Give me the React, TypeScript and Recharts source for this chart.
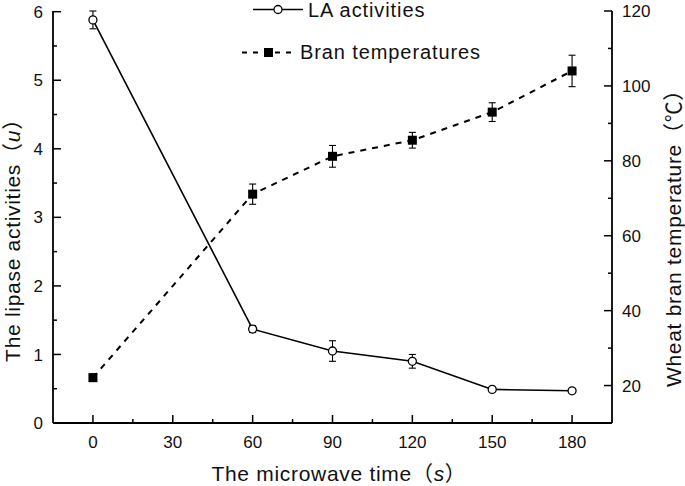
import { ReactElement } from 'react'
import { ComposedChart, Line, XAxis, YAxis, ErrorBar } from 'recharts'

// microwave time (s)
const times = [0, 60, 90, 120, 150, 180]
// lipase activities (u), left axis
const laActivities = [5.88, 1.37, 1.05, 0.9, 0.49, 0.47]
const laErrors = [0.13, 0.05, 0.15, 0.1, 0.03, 0.03]
// bran temperature (°C), right axis
const branTemps = [22.1, 71.1, 81.2, 85.5, 93, 104]
const branErrors = [1, 2.7, 2.9, 2.1, 2.5, 4.2]

const xTicks = [0, 15, 30, 45, 60, 75, 90, 105, 120, 135, 150, 165, 180]
const leftTicks = [0, 0.5, 1, 1.5, 2, 2.5, 3, 3.5, 4, 4.5, 5, 5.5, 6]
const rightTicks = [20, 30, 40, 50, 60, 70, 80, 90, 100, 110, 120]

const data = times.map((t, i) => ({
   time: t,
   la: laActivities[i],
   laErr: laErrors[i],
   temp: branTemps[i],
   tempErr: branErrors[i]
}))

const font = 'Arial, "Liberation Sans", "Noto Sans CJK SC", sans-serif'
const tickFont = 17
const titleFont = 21
const ink = '#000'

const AxisTick = (side: 'left' | 'right' | 'bottom', isMajor: (v: number) => boolean) =>
   (props: any): ReactElement => {
      const { x, y, payload } = props
      const v = payload.value as number
      const major = isMajor(v)
      const len = major ? 8 : 4
      if (side === 'bottom') {
         return (
            <g>
               <line x1={ x } y1={ y } x2={ x } y2={ y - len } stroke={ ink } strokeWidth={ 1.5 } />
               { major && <text x={ x } y={ y + 25 } textAnchor='middle' fontSize={ tickFont } fontFamily={ font } fill='#111'>{ v }</text> }
            </g>
         )
      }
      const dir = side === 'left' ? 1 : -1
      return (
         <g>
            <line x1={ x } y1={ y } x2={ x + dir * len } y2={ y } stroke={ ink } strokeWidth={ 1.5 } />
            { major && (
               <text
                  x={ x - dir * 10 }
                  y={ y }
                  dy='0.36em'
                  textAnchor={ side === 'left' ? 'end' : 'start' }
                  fontSize={ tickFont }
                  fontFamily={ font }
                  fill='#111'
               >{ v }</text>
            ) }
         </g>
      )
   }

const CircleDot = (props: any) => (
   <circle key={ 'c' + props.index } cx={ props.cx } cy={ props.cy } r={ 4 } fill='#fff' stroke={ ink } strokeWidth={ 1.3 } />
)

const SquareDot = (props: any) => (
   <rect key={ 's' + props.index } x={ props.cx - 4.5 } y={ props.cy - 4.5 } width={ 9 } height={ 9 } fill={ ink } />
)

export default function App(): ReactElement {
   return (
      <div style={{ position: 'absolute', left: 0, top: 0, width: 685, height: 486, background: '#fff' }}>
         <ComposedChart
            width={ 685 }
            height={ 486 }
            data={ data }
            margin={{ top: 11, right: 0, bottom: 0, left: 0 }}
         >
            <XAxis
               dataKey='time'
               type='number'
               domain={ [-15, 195] }
               ticks={ xTicks }
               height={ 63 }
               tickSize={ 0 }
               tickMargin={ 0 }
               tickLine={ false }
               axisLine={{ stroke: ink, strokeWidth: 1.8 }}
               tick={ AxisTick('bottom', (v) => v % 30 === 0) }
               interval={ 0 }
            />
            <YAxis
               yAxisId='left'
               orientation='left'
               type='number'
               domain={ [0, 6] }
               ticks={ leftTicks }
               width={ 53 }
               tickSize={ 0 }
               tickMargin={ 0 }
               tickLine={ false }
               axisLine={{ stroke: ink, strokeWidth: 1.8 }}
               tick={ AxisTick('left', (v) => Number.isInteger(v)) }
               interval={ 0 }
            />
            <YAxis
               yAxisId='right'
               orientation='right'
               type='number'
               domain={ [10, 120] }
               ticks={ rightTicks }
               width={ 73 }
               tickSize={ 0 }
               tickMargin={ 0 }
               tickLine={ false }
               axisLine={{ stroke: ink, strokeWidth: 1.8 }}
               tick={ AxisTick('right', (v) => v % 20 === 0) }
               interval={ 0 }
            />

            <Line
               yAxisId='right'
               type='linear'
               dataKey='temp'
               stroke={ ink }
               strokeWidth={ 2 }
               strokeDasharray='6 6'
               dot={ SquareDot }
               activeDot={ false }
               isAnimationActive={ false }
            >
               <ErrorBar dataKey='tempErr' width={ 3.5 } stroke={ ink } strokeWidth={ 1.1 } direction='y' />
            </Line>

            <Line
               yAxisId='left'
               type='linear'
               dataKey='la'
               stroke={ ink }
               strokeWidth={ 1.6 }
               dot={ CircleDot }
               activeDot={ false }
               isAnimationActive={ false }
            >
               <ErrorBar dataKey='laErr' width={ 3.5 } stroke={ ink } strokeWidth={ 1.1 } direction='y' />
            </Line>
         </ComposedChart>

         {/* legend and axis titles */}
         <svg width={ 685 } height={ 486 } style={{ position: 'absolute', left: 0, top: 0, pointerEvents: 'none' }}>
            <line x1={ 253 } y1={ 9.5 } x2={ 303 } y2={ 9.5 } stroke={ ink } strokeWidth={ 1.6 } />
            <circle cx={ 278 } cy={ 9.5 } r={ 4 } fill='#fff' stroke={ ink } strokeWidth={ 1.3 } />
            <text x={ 308 } y={ 16.7 } fontSize={ 20 } fontFamily={ font } letterSpacing={ 0.9 } fill='#111'>LA activities</text>

            <line x1={ 242 } y1={ 52.5 } x2={ 296 } y2={ 52.5 } stroke={ ink } strokeWidth={ 2 } strokeDasharray='5 6' />
            <rect x={ 264 } y={ 48 } width={ 9 } height={ 9 } fill={ ink } />
            <text x={ 300 } y={ 59.3 } fontSize={ 20 } fontFamily={ font } letterSpacing={ 0.9 } fill='#111'>Bran temperatures</text>

            <text x={ 339 } y={ 481 } textAnchor='middle' fontSize={ titleFont } fontFamily={ font } letterSpacing={ 0.7 } fill='#111'>
               The microwave time（<tspan fontStyle='italic'>s</tspan>）
            </text>

            <text
               transform='translate(12 235) rotate(-90)'
               textAnchor='middle'
               dy='0.36em'
               fontSize={ titleFont }
               fontFamily={ font }
               letterSpacing={ 0.7 }
               fill='#111'
            >
               The lipase activities（<tspan fontStyle='italic'>u</tspan>）
            </text>

            <text
               transform='translate(673 233) rotate(-90)'
               textAnchor='middle'
               dy='0.36em'
               fontSize={ titleFont }
               fontFamily={ font }
               letterSpacing={ 0.7 }
               fill='#111'
            >
               Wheat bran temperature（℃）
            </text>
         </svg>
      </div>
   )
}
